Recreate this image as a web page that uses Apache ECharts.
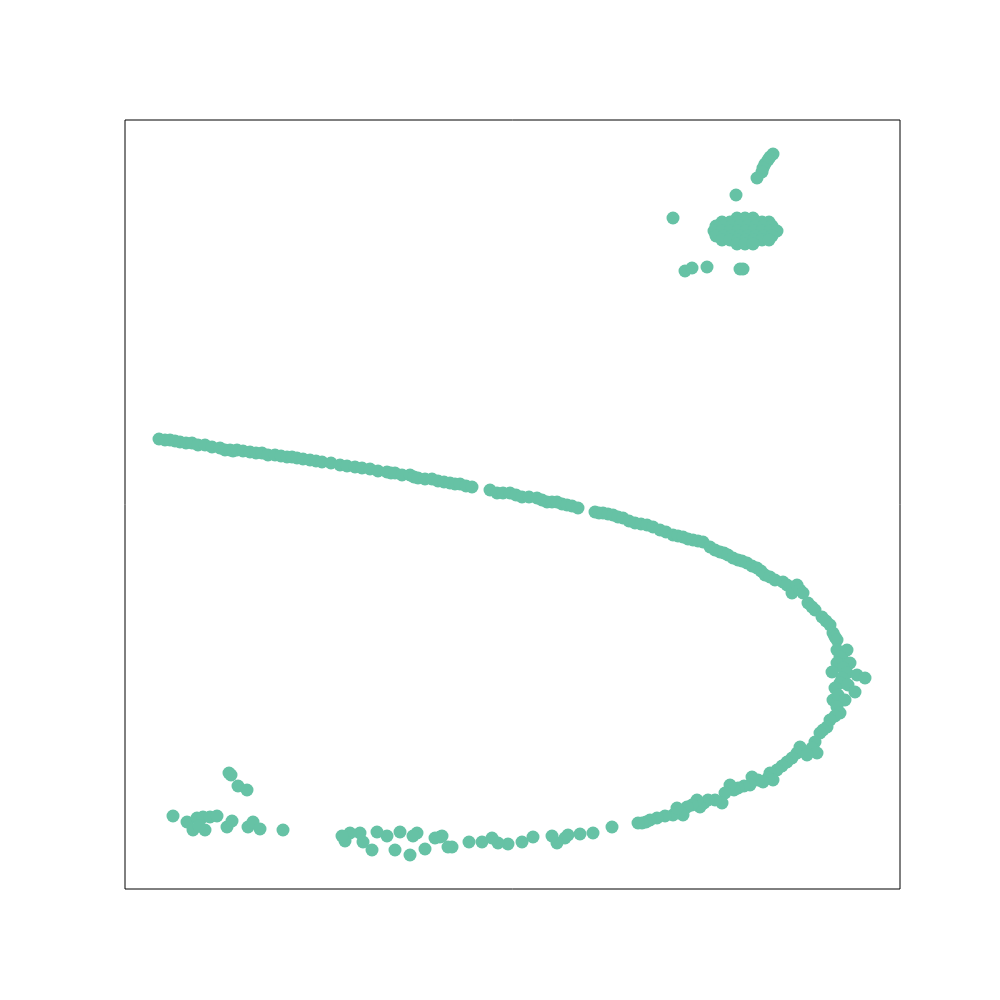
<!DOCTYPE html>
<html>
<head>
<meta charset="utf-8">
<script src="https://cdn.jsdelivr.net/npm/echarts@6/dist/echarts.min.js"></script>
<style>html,body{margin:0;padding:0;background:#fff}#c{width:1000px;height:1000px}</style>
</head>
<body>
<div id="c"></div>
<script>
// Values (x grows right, y grows downward as in the reference)
const topTail = [[773,154],[770,157],[768,160],[765,164],[763,168],[762,172],[757,178],[736,195],[673,218],
  [685,271],[692,268],[707,267],[740,269],[743,269]];
const topBlob = [[737,218],[745,218],[753,218],
  [722,222],[730,222],[738,222],[746,222],[754,222],[762,222],[769,222],
  [716,226],[724,226],[732,226],[740,226],[748,226],[756,226],[764,226],[772,226],
  [714,231],[722,231],[730,231],[738,231],[746,231],[754,231],[762,231],[770,231],[777,231],
  [716,236],[724,236],[732,236],[740,236],[748,236],[756,236],[764,236],[772,236],
  [722,240],[730,240],[738,240],[746,240],[754,240],[762,240],[769,240],
  [737,244],[745,244],[753,244]];
const upperArm = [[159,439],[165,440],[170,440],[175,441],[180,442],[186,443],[192,443],[198,445],[205,445],
  [212,447],[220,448],[225,450],[230,450],[233,451],[237,450],[243,451],[250,452],[256,453],[262,453],
  [268,455],[275,455],[281,456],[287,457],[292,457],[297,458],[303,459],[310,460],[316,461],[322,462],
  [331,463],[340,465],[347,466],[355,467],[362,468],[370,469],[378,471],[387,472],[391,473],[395,473],
  [402,475],[410,475],[414,477],[418,478],[425,479],[432,479],[438,481],[444,482],[450,483],[455,484],
  [460,484],[466,486],[472,487],[490,490],[497,493],[503,493],[510,493],[516,495],[522,497],
  [529,497],[537,498],[542,500],[547,502],[552,502],[557,502],[562,504],[567,505],[572,506],[578,508],
  [595,512],[599,513],[603,513],[608,514],[613,515],[618,517],[623,518],[629,521],[635,523],
  [641,524],[647,525],[653,527],[660,530],[666,532],[673,535],[678,536],[683,537],[688,539],[693,540],
  [698,541],[703,542],[710,547],[715,550],[720,552],[724,553],[728,555],[733,558],[738,560],[742,561],
  [747,563],[752,566],[757,568],[761,571],[765,575],[770,577],[775,580],[783,582],[787,585],[792,593],
  [797,585],[800,590],[803,593],[808,603],[812,607],[815,610],[822,617],[826,621],[830,625],[833,633],
  [835,637],[837,640],[837,650],[847,650],[843,660],[840,657],[837,663],[850,663],[843,668],[832,672],
  [847,673],[857,675],[865,678],[842,678],[840,683],[848,685],[835,688],[855,692]];
const lowerArm = [[833,700],[838,695],[845,700],[837,707],[840,713],[835,716],[830,720],[827,727],
  [823,730],[820,733],[815,742],[812,748],[817,753],[800,747],[797,753],[807,755],[792,758],[787,762],
  [782,766],[777,770],[770,773],[773,780],[768,778],[763,782],[758,780],[752,777],[750,785],[744,786],
  [738,788],[734,790],[730,785],[725,793],[722,803],[715,800],[708,800],[704,803],[700,807],[697,800],
  [692,805],[687,807],[683,815],[680,812],[673,815],[677,808],[665,816],[657,818],[650,820],[646,822],
  [642,823],[638,823],[612,827],[593,833],[580,834],[568,835],
  [565,838],[557,843],[552,836],[533,837],[522,842],[508,844],[498,843],
  [492,838],[482,842],[469,842],[452,847],[448,847],[440,837],[442,836],
  [435,838],[425,849],[417,833],[413,836],[410,855],[400,832],[395,850],[387,836],[377,832],[372,850],
  [363,842],[360,833],[350,833],[345,841],[342,836]];
const bottomLeft = [[229,773],[231,775],[238,786],[247,790],[173,816],[187,822],[197,818],[203,817],
  [210,817],[217,816],[193,830],[205,830],[199,826],[227,827],[232,821],[248,827],[253,822],[260,829],
  [283,830]];

const allPoints = [].concat(topTail, topBlob, upperArm, lowerArm, bottomLeft);

const chart = echarts.init(document.getElementById('c'), null, {renderer:'canvas'});
chart.setOption({
  animation: false,
  grid: {left:125, top:120, width:775, height:769, show:true, borderColor:'#000', borderWidth:1, backgroundColor:'transparent'},
  xAxis: {type:'value', min:125, max:900, show:false},
  yAxis: {type:'value', min:120, max:889, inverse:true, show:false},
  series: [{
    type:'scatter',
    data: allPoints,
    symbolSize: 13,
    itemStyle: {color:'#66c2a5', opacity:1}
  }]
});
</script>
</body>
</html>
